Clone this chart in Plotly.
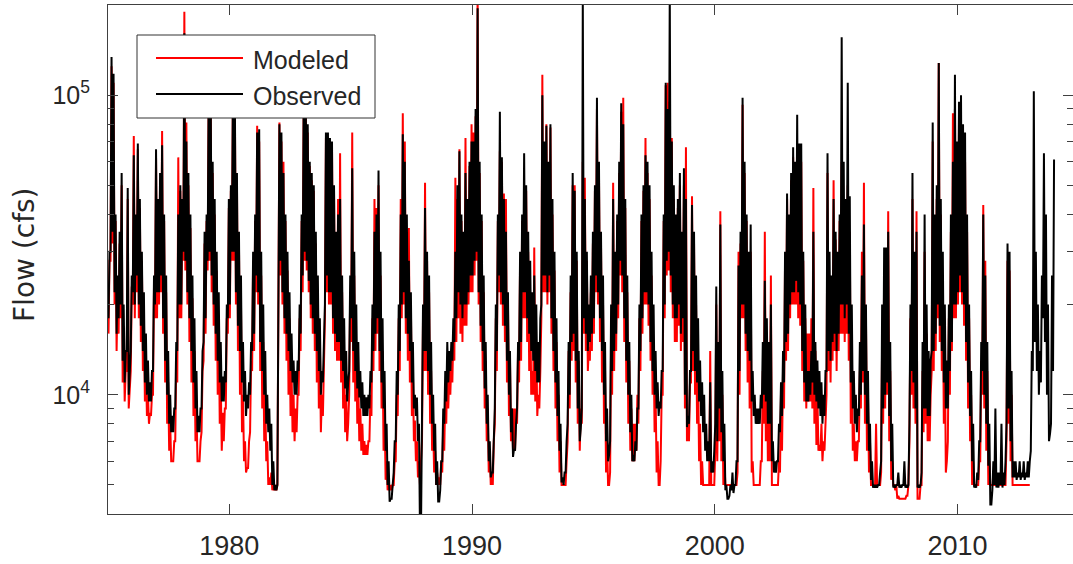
import plotly.graph_objects as go

# Flow in thousands of cfs. For every month (Jan..Dec) two readings are kept:
# the month's high ("peak") and its low ("base").
start_year = 1975

obs_peak_1970s = [
    30, 134, 118, 40, 25, 35, 55, 20, 14, 49, 12, 25,      # 1975
    63, 40, 69, 45, 30, 22, 16, 13, 11, 12, 25, 66,        # 1976
    45, 55, 68, 40, 25, 14, 10, 8.5, 9, 15, 40, 50,        # 1977
    45, 161, 70, 55, 40, 25, 18, 12, 8.5, 9, 14, 35,       # 1978
    40, 95, 110, 60, 45, 30, 22, 15, 11.5, 12, 20, 45,     # 1979
]
obs_base_1970s = [
    18, 30, 35, 22, 16, 18, 20, 13, 11, 14, 10, 14,
    22, 20, 25, 20, 17, 14, 11, 10, 9.5, 9.5, 12, 20,
    22, 22, 25, 18, 13, 10, 8, 7.5, 7.5, 9, 14, 20,
    20, 30, 28, 22, 18, 14, 11, 9, 7.5, 7.5, 9, 15,
    18, 28, 30, 25, 20, 16, 13, 11, 9.5, 9.5, 11, 18,
]
obs_peak_1980s = [
    50, 100, 90, 55, 35, 25, 15, 12, 10, 11, 15, 30,       # 1980
    40, 75, 77, 30, 20, 14, 10, 9, 8, 6, 5, 5,             # 1981
    80, 75, 55, 40, 30, 22, 16, 13, 12, 13, 20, 40,        # 1982
    95, 105, 80, 60, 55, 50, 35, 25, 18, 12, 14, 75,       # 1983
    75, 72, 70, 50, 35, 40, 45, 25, 18, 14, 11, 25,        # 1984
    57, 30, 20, 15, 12, 11, 10, 9.8, 10, 12, 20, 35,       # 1985
    40, 56, 30, 18, 12, 8, 6, 4.5, 5, 7, 12, 20,           # 1986
    40, 74, 60, 40, 28, 22, 15, 10, 9.8, 8, 3.5, 20,       # 1987
    42, 30, 25, 15, 10, 8, 6, 4.4, 6, 9, 12, 15,           # 1988
    14, 15, 18, 30, 50, 65, 40, 35, 55, 45, 60, 70,        # 1989
]
obs_base_1980s = [
    20, 30, 30, 22, 17, 14, 11, 9.5, 8.5, 9, 10, 14,
    16, 25, 22, 15, 12, 10, 8, 7.5, 6.5, 5, 4.8, 4.8,
    18, 28, 22, 18, 16, 14, 12, 11, 10, 10, 12, 16,
    25, 30, 28, 24, 20, 18, 16, 14, 12, 10, 11, 20,
    25, 22, 22, 18, 16, 15, 15, 13, 12, 10.5, 9.5, 12,
    18, 14, 12, 10.5, 9.8, 9, 8.5, 8.5, 8.5, 9, 11, 14,
    16, 18, 14, 11, 9, 6.5, 5, 4.4, 4.5, 5.5, 7, 10,
    14, 20, 22, 18, 16, 14, 11, 9, 8.5, 7, 3.5, 9,
    14, 14, 12, 10, 8, 6.5, 5, 4.4, 4.8, 6, 8, 9.5,
    11, 12, 13, 15, 18, 22, 20, 18, 20, 20, 22, 25,
]
obs_peak_1990s = [
    70, 90, 195, 60, 40, 25, 15, 10, 7, 5.5, 8, 20,        # 1990
    40, 88, 62, 45, 35, 22, 14, 9, 6.6, 8, 15, 30,         # 1991
    40, 64, 50, 35, 28, 22, 25, 20, 15, 18, 100, 70,       # 1992
    79, 60, 80, 45, 30, 18, 12, 8, 5.3, 5.5, 7, 15,        # 1993
    25, 55, 48, 30, 14, 7.7, 210, 45, 30, 20, 25, 35,      # 1994
    50, 98, 60, 35, 25, 15, 9, 6.3, 20, 45, 30, 40,        # 1995
    60, 94, 80, 45, 25, 15, 10, 6.3, 7, 9, 20, 40,         # 1996
    50, 63, 60, 50, 30, 20, 14, 11, 9.5, 12, 40, 110,      # 1997
    90, 220, 70, 50, 40, 45, 55, 35, 57, 45, 8.5, 12,      # 1998
    43, 35, 25, 18, 13, 11, 10, 8, 7, 11, 6, 6.5,          # 1999
]
obs_base_1990s = [
    25, 28, 30, 22, 17, 14, 10.5, 8, 6, 5.3, 5.5, 9,
    14, 25, 22, 20, 17, 13, 10, 7.5, 6.2, 6.5, 9, 13,
    15, 22, 22, 18, 16, 14, 13, 12, 11, 11, 20, 25,
    25, 22, 25, 18, 14, 11, 8.5, 6.5, 5.1, 5, 5.5, 8,
    10, 15, 16, 13, 9, 7, 9, 18, 16, 14, 15, 16,
    18, 25, 22, 18, 14, 10, 7, 6, 7, 12, 14, 16,
    20, 28, 25, 18, 13, 10, 7.5, 6, 6, 6.5, 9, 14,
    18, 22, 22, 20, 15, 12, 10, 9, 8.5, 9, 12, 20,
    28, 30, 25, 20, 18, 18, 20, 16, 18, 10, 7.8, 8,
    12, 14, 12, 11, 9.5, 8.5, 7.5, 6.5, 6, 6, 5.5, 5.5,
]
obs_peak_2000s = [
    23, 15, 37, 12, 8, 5, 4.5, 5, 5.5, 5, 6, 27,           # 2000
    35, 98, 60, 40, 30, 37, 12, 10, 9, 9, 10, 15,          # 2001
    24, 18, 15, 20, 7, 6, 6, 8, 11, 14, 30, 47,            # 2002
    40, 55, 67, 60, 86, 69, 69, 30, 20, 12, 12, 14,        # 2003
    35, 15, 13, 12, 11, 10, 12, 64, 30, 25, 45, 35,        # 2004
    30, 40, 156, 60, 45, 110, 46, 20, 12, 10, 9, 15,       # 2005
    25, 37, 20, 12, 8, 6, 5, 5, 5, 5.5, 20, 31,            # 2006
    31, 35, 15, 8, 5, 5, 5.5, 5, 5, 6, 5, 5,               # 2007
    20, 55, 30, 35, 5, 5, 15, 40, 20, 14, 13, 81,          # 2008
    40, 50, 128, 45, 30, 20, 13, 20, 40, 60, 117, 70,      # 2009
]
obs_base_2000s = [
    8, 7, 9, 7.5, 6, 4.8, 4.5, 4.6, 4.8, 4.7, 5, 6,
    12, 20, 20, 16, 14, 13, 9.5, 8.5, 8, 8, 8, 9,
    10, 9.5, 8, 8, 6, 5.5, 5.5, 6, 7.5, 8.5, 11, 15,
    16, 20, 22, 22, 24, 22, 20, 14, 11, 9.5, 9.5, 10,
    11, 10, 9.5, 9, 8.5, 8, 8.5, 12, 14, 13, 15, 16,
    14, 16, 20, 20, 18, 20, 16, 11, 9, 8, 7.5, 8.5,
    10, 12, 10, 8, 6.5, 5.2, 4.9, 4.9, 4.9, 5, 6, 9,
    10, 11, 8.5, 6, 4.9, 4.9, 5, 4.9, 4.9, 5, 4.9, 4.9,
    8, 12, 11, 9, 4.9, 4.9, 5.5, 9, 9, 8.5, 8.5, 14,
    14, 16, 20, 17, 14, 11, 9, 9, 12, 15, 20, 20,
]
obs_peak_2010s = [
    95, 100, 80, 75, 40, 20, 12, 8, 5, 5.5, 7, 15,         # 2010
    40, 25, 15, 8, 4.3, 6, 9, 5.5, 5.5, 8, 5.5, 6,         # 2011
    32, 30, 12, 6, 6, 5.5, 6, 5.5, 6, 5.5, 6, 6,           # 2012
    14, 103, 30, 20, 14, 25, 64, 40, 20, 7.4, 25, 61,      # 2013
]
obs_base_2010s = [
    22, 25, 22, 20, 15, 11, 8.5, 6, 4.9, 4.9, 5.2, 7,
    12, 10, 8, 5.8, 4.3, 4.8, 5, 4.9, 4.9, 5, 4.9, 5,
    8, 9, 7, 5.3, 5.3, 5.2, 5.3, 5.2, 5.3, 5.2, 5.3, 5.3,
    6.5, 12, 15, 12, 10, 11, 18, 15, 10, 7, 8, 12,
]

mod_peak_1970s = [
    28, 125, 110, 38, 22, 32, 50, 17, 12, 45, 11, 23,      # 1975
    73, 38, 66, 42, 28, 18, 13, 10, 8.7, 10, 23, 62,       # 1976
    42, 52, 76, 38, 22, 11, 8, 6, 7, 13, 62, 48,           # 1977
    42, 190, 81, 50, 36, 21, 14, 9, 6, 7, 12, 32,          # 1978
    38, 90, 105, 55, 40, 26, 18, 11, 8.7, 9, 18, 42,       # 1979
]
mod_base_1970s = [
    16, 28, 32, 20, 14, 16, 18, 11, 9.5, 12, 9, 12,
    20, 18, 22, 18, 15, 12, 9.5, 8.5, 8, 8.5, 10, 18,
    18, 20, 22, 16, 11, 8, 6.5, 6, 6, 7, 11, 18,
    18, 28, 26, 20, 15, 11, 8.5, 7, 6, 6, 7.5, 13,
    16, 26, 28, 22, 17, 13, 10, 8, 6.5, 7, 9, 16,
]
mod_peak_1980s = [
    48, 95, 85, 52, 32, 20, 10, 7, 5.7, 7, 13, 28,         # 1980
    38, 79, 70, 25, 15, 10, 7, 5.3, 5.5, 5, 5, 5,          # 1981
    81, 70, 60, 38, 26, 18, 12, 10, 9, 10, 18, 38,         # 1982
    90, 100, 75, 58, 52, 48, 32, 22, 15, 10, 12, 72,       # 1983
    72, 70, 68, 48, 32, 45, 64, 22, 14, 10, 8, 22,         # 1984
    75, 25, 15, 11, 9, 8, 7, 6.8, 7, 10, 18, 45,           # 1985
    42, 50, 25, 14, 9, 6, 5, 5, 5, 6, 10, 18,              # 1986
    45, 87, 70, 35, 36, 20, 12, 8.2, 7, 6, 6, 18,          # 1987
    51, 28, 22, 12, 8, 6.5, 5.5, 5.3, 6, 8, 10, 13,        # 1988
    12, 13, 16, 53, 45, 66, 38, 32, 72, 42, 58, 80,        # 1989
]
mod_base_1980s = [
    18, 28, 28, 20, 14, 10, 7.5, 6, 5.5, 5.7, 7.5, 12,
    14, 22, 20, 12, 9, 7, 6, 5, 5, 4.8, 4.8, 4.8,
    16, 25, 20, 16, 13, 10, 8.5, 7.5, 7, 7.5, 10, 14,
    22, 28, 26, 22, 18, 16, 14, 11, 9, 7.5, 8.5, 18,
    22, 20, 20, 16, 14, 13, 13, 11, 9, 7.5, 7, 10,
    15, 11, 9.5, 8, 7, 6.5, 6.3, 6.3, 6.3, 7, 8.5, 12,
    14, 16, 12, 9, 6.5, 5.2, 4.8, 4.8, 4.8, 5, 6, 8.5,
    12, 18, 20, 16, 13, 11, 8.5, 7, 6, 5.3, 5, 7,
    12, 12, 10, 8, 6.5, 5.5, 5, 5, 5, 5.5, 6.5, 8,
    9, 10, 11, 13, 15, 18, 16, 15, 17, 17, 20, 22,
]
mod_peak_1990s = [
    75, 85, 230, 55, 38, 22, 13, 9, 6.5, 5.5, 7, 18,       # 1990
    38, 65, 60, 47, 45, 20, 13, 9, 9, 9, 14, 28,           # 1991
    38, 45, 48, 30, 22, 12, 31, 15, 10, 12, 117, 65,       # 1992
    80, 55, 78, 40, 26, 15, 10, 7, 5, 5, 6, 14,            # 1993
    22, 50, 50, 28, 13, 9, 60, 53, 28, 14.4, 22, 32,       # 1994
    48, 90, 55, 32, 20, 12, 7, 5, 15, 51, 28, 38,          # 1995
    55, 88, 98, 42, 22, 13, 9, 8, 8, 10, 18, 38,           # 1996
    48, 72, 55, 45, 25, 15, 10, 7, 5, 10, 38, 108,         # 1997
    110, 95, 72, 45, 36, 42, 50, 32, 50, 67, 8.2, 11,      # 1998
    46, 32, 20, 12, 8, 6, 5, 5, 5, 14, 5, 5,               # 1999
]
mod_base_1990s = [
    22, 25, 28, 20, 15, 12, 9, 7, 5.5, 5, 5, 8,
    12, 22, 20, 17, 15, 11, 8.5, 7, 6.5, 6.5, 8, 11,
    13, 18, 18, 15, 12, 10, 10, 9.5, 8.5, 9, 18, 22,
    22, 20, 22, 16, 12, 9, 7, 5.5, 5, 5, 5, 7,
    9, 13, 14, 11, 8, 6.5, 8, 16, 14, 12, 13, 14,
    16, 22, 20, 15, 11, 8, 5.5, 5, 5.5, 10, 12, 14,
    18, 25, 22, 15, 11, 8, 6.5, 6, 6, 6.5, 8, 12,
    16, 20, 20, 17, 13, 10, 7.5, 5.5, 5, 6, 10, 18,
    25, 26, 22, 18, 15, 15, 17, 14, 15, 9, 7, 7,
    11, 12, 10, 8, 6, 5, 5, 5, 5, 5, 5, 5,
]
mod_peak_2000s = [
    20, 12, 41, 10, 6, 5, 5, 5, 5, 5, 5, 30,               # 2000
    32, 93, 55, 38, 28, 30, 6, 5, 5, 5, 6, 12,             # 2001
    35, 15, 12, 25, 5, 5, 5, 6, 10, 12, 28, 45,            # 2002
    38, 52, 62, 55, 60, 65, 60, 28, 18, 16, 16, 18,        # 2003
    49, 14, 10, 6.8, 8, 7, 8, 55, 25, 22, 52, 33,          # 2004
    28, 38, 60, 45, 40, 50, 35, 15, 8, 7, 7, 12,           # 2005
    30, 51, 18, 10, 7, 5, 5, 8, 5, 5, 15, 25,              # 2006
    28, 41, 12, 6, 5, 5, 4.6, 4.5, 4.5, 4.5, 4.6, 5,       # 2007
    18, 45, 28, 41, 4.5, 5, 12, 30, 16, 10, 10, 70,        # 2008
    35, 45, 128, 40, 25, 15, 6, 18, 35, 87, 90, 65,        # 2009
]
mod_base_2000s = [
    6.5, 6, 7, 6, 5, 5, 5, 5, 5, 5, 5, 5.5,
    10, 18, 18, 14, 11, 9, 5.5, 5, 5, 5, 5, 6,
    8, 7, 6, 6, 5, 5, 5, 5, 5.5, 6.5, 9, 13,
    14, 18, 20, 20, 20, 18, 17, 12, 9.5, 9, 9.5, 9.5,
    9, 8, 6.8, 6.5, 6.5, 6, 6.5, 10, 12, 11, 13, 14,
    12, 14, 16, 16, 15, 16, 13, 8, 6.5, 6, 6, 7,
    9, 11, 8, 6.5, 5.5, 5, 5, 5, 5, 5, 5.5, 8,
    9, 10, 7, 5.2, 5, 4.8, 4.5, 4.5, 4.5, 4.5, 4.5, 4.6,
    7, 10, 9, 8, 4.5, 4.5, 5, 7.5, 8, 7, 7, 12,
    12, 14, 18, 15, 12, 8, 5.5, 7, 10, 14, 18, 18,
]
mod_peak_2010s = [
    85, 75, 70, 60, 35, 18, 10, 6, 5, 5, 6, 13,            # 2010
    43, 28, 12, 6, 5, 5, 5, 5, 5, 5, 5, 5,                 # 2011
    28, 26, 10, 5, 5, 5, 5, 5, 5, 5, 5, 5,                 # 2012
]
mod_base_2010s = [
    20, 22, 20, 17, 13, 9, 7, 5, 5, 5, 5, 6,
    10, 9, 6.5, 5, 5, 5, 5, 5, 5, 5, 5, 5,
    7, 8, 6, 5, 5, 5, 5, 5, 5, 5, 5, 5,
]

x_ticks = [1980, 1990, 2000, 2010]
y_ticks = [1e4, 1e5]
y_tick_text = ["10<sup>4</sup>", "10<sup>5</sup>"]
y_minor = [4000, 5000, 6000, 7000, 8000, 9000, 20000, 30000, 40000,
           50000, 60000, 70000, 80000, 90000]


def monthly_series(peaks, bases):
    """Interleave each month's low and high reading (kcfs -> cfs) in time order."""
    t, v = [], []
    for i, (pk, bs) in enumerate(zip(peaks, bases)):
        t += [start_year + (i + 0.25) / 12, start_year + (i + 0.75) / 12]
        v += [bs * 1000, pk * 1000]
    return t, v


obs_peak = obs_peak_1970s + obs_peak_1980s + obs_peak_1990s + obs_peak_2000s + obs_peak_2010s
obs_base = obs_base_1970s + obs_base_1980s + obs_base_1990s + obs_base_2000s + obs_base_2010s
mod_peak = mod_peak_1970s + mod_peak_1980s + mod_peak_1990s + mod_peak_2000s + mod_peak_2010s
mod_base = mod_base_1970s + mod_base_1980s + mod_base_1990s + mod_base_2000s + mod_base_2010s

t_obs, obs_cfs = monthly_series(obs_peak, obs_base)
t_mod, mod_cfs = monthly_series(mod_peak, mod_base)

RED = "#ff0000"
BLACK = "#000000"
TXT = "#262626"
AX = "#404040"
FONT = "Liberation Sans, Arial, sans-serif"

fig = go.Figure()
fig.add_trace(go.Scatter(x=t_mod, y=mod_cfs, mode="lines", name="Modeled",
                         line=dict(color=RED, width=2), showlegend=False))
fig.add_trace(go.Scatter(x=t_obs, y=obs_cfs, mode="lines", name="Observed",
                         line=dict(color=BLACK, width=2), showlegend=False))

W, H = 1073, 564
L, R, T, B = 108, 0, 5, 50
pw, ph = W - L - R, H - T - B


def px(x):
    return (x - L) / pw


def py(y):
    return (H - B - y) / ph


fig.update_layout(
    width=W, height=H,
    margin=dict(l=L, r=R, t=T, b=B),
    paper_bgcolor="white", plot_bgcolor="white",
    font=dict(family=FONT, color=TXT),
    xaxis=dict(range=[1975, 2014.76], tickvals=x_ticks, ticktext=[str(v) for v in x_ticks],
               ticks="inside", ticklen=10, tickwidth=1, tickcolor=AX,
               showline=True, linecolor=AX, linewidth=1, mirror="ticks",
               showgrid=False, zeroline=False, tickfont=dict(size=27, color=TXT),
               ticklabelstandoff=8),
    yaxis=dict(type="log", range=[3.60206, 5.30103], tickvals=y_ticks, ticktext=y_tick_text,
               ticks="inside", ticklen=10, tickwidth=1, tickcolor=AX,
               minor=dict(tickvals=y_minor, ticks="inside", ticklen=6, tickcolor=AX, showgrid=False),
               showline=True, linecolor=AX, linewidth=1, mirror="ticks",
               showgrid=False, zeroline=False, tickfont=dict(size=25, color=TXT),
               ticklabelstandoff=12),
)

# y-axis label
fig.add_annotation(text="Flow (cfs)", xref="paper", yref="paper", x=px(24), y=py(255),
                   xanchor="center", yanchor="middle", textangle=-90, showarrow=False,
                   font=dict(family="DejaVu Sans, sans-serif", size=28, color=TXT))

# legend box
fig.add_shape(type="rect", xref="paper", yref="paper", x0=px(137), x1=px(375), y0=py(118), y1=py(35),
              line=dict(color="#333333", width=1), fillcolor="white", layer="above")
fig.add_shape(type="line", xref="paper", yref="paper", x0=px(156), x1=px(243), y0=py(58), y1=py(58),
              line=dict(color=RED, width=2), layer="above")
fig.add_shape(type="line", xref="paper", yref="paper", x0=px(156), x1=px(243), y0=py(94), y1=py(94),
              line=dict(color=BLACK, width=2), layer="above")
fig.add_annotation(text="Modeled", xref="paper", yref="paper", x=px(251), y=py(60),
                   xanchor="left", yanchor="middle", showarrow=False,
                   font=dict(family=FONT, size=25, color=TXT))
fig.add_annotation(text="Observed", xref="paper", yref="paper", x=px(251), y=py(96),
                   xanchor="left", yanchor="middle", showarrow=False,
                   font=dict(family=FONT, size=25, color=TXT))

fig.write_html("out.html")
